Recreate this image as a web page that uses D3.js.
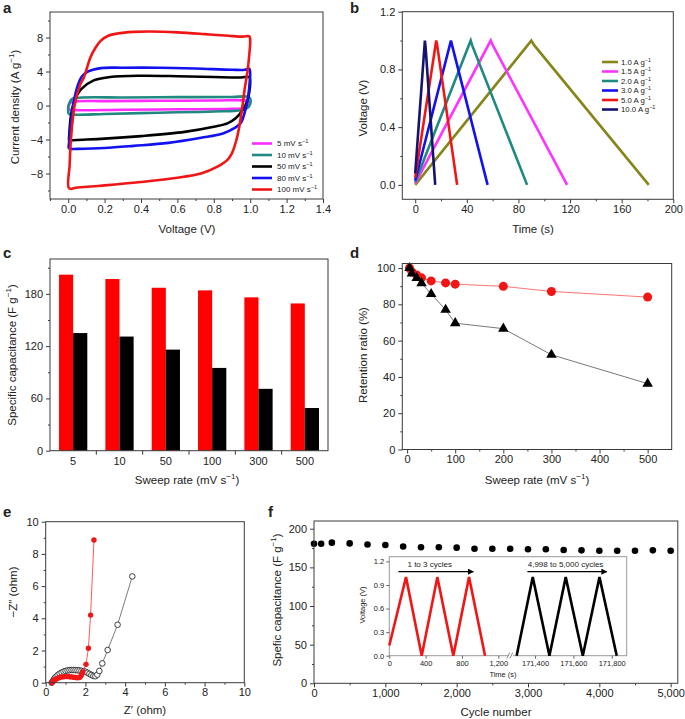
<!DOCTYPE html>
<html>
<head>
<meta charset="utf-8">
<script src="https://cdn.jsdelivr.net/npm/d3@7"></script>
<style>
  body { margin: 0; background: #fff; }
  svg text { font-family: "Liberation Sans", Arial, sans-serif; fill: #222; }
</style>
</head>
<body>
<svg id="chart" width="685" height="719"></svg>
<script>
// ---------- data ----------
// a: CV loops, [voltage V, current A/g]
const cvLabels = ["5", "10", "50", "80", "100"];
const cv5 = [[0.0,-0.3],[0.01,0.3],[0.04,0.48],[0.2,0.52],[0.5,0.55],[0.8,0.58],[0.97,0.6],[0.995,0.45],[0.99,0.0],[0.97,-0.3],[0.9,-0.4],[0.6,-0.45],[0.3,-0.5],[0.05,-0.55],[0.01,-0.5]];
const cv10 = [[0.0,-0.8],[0.005,0.2],[0.02,0.75],[0.06,0.92],[0.3,0.95],[0.6,0.98],[0.9,1.0],[0.98,1.05],[1.0,0.8],[1.0,0.2],[0.985,-0.3],[0.95,-0.55],[0.8,-0.7],[0.5,-0.85],[0.2,-1.0],[0.04,-1.08],[0.005,-1.0]];
const cv50 = [[0.005,-4.1],[0.006,-3.4],[0.015,-1.2],[0.035,0.6],[0.07,1.9],[0.14,2.95],[0.23,3.35],[0.4,3.5],[0.6,3.45],[0.8,3.35],[0.95,3.3],[0.995,3.35],[1.0,2.8],[0.995,1.6],[0.985,0.6],[0.958,-0.55],[0.92,-1.5],[0.875,-2.1],[0.8,-2.5],[0.64,-3.1],[0.4,-3.6],[0.2,-3.9],[0.05,-4.05],[0.01,-4.1]];
const cv80 = [[0.003,-5.0],[0.005,-4.3],[0.015,-2.0],[0.03,0.4],[0.05,2.2],[0.075,3.4],[0.105,3.96],[0.18,4.4],[0.3,4.45],[0.5,4.45],[0.7,4.35],[0.9,4.2],[0.97,4.2],[0.995,4.35],[1.0,3.8],[0.995,2.2],[0.985,0.5],[0.97,-0.8],[0.95,-2.0],[0.91,-2.7],[0.85,-3.3],[0.73,-3.8],[0.55,-4.4],[0.36,-4.75],[0.2,-5.0],[0.05,-5.1],[0.01,-5.1]];
const cv100 = [[0.005,-9.75],[0.008,-7.0],[0.015,-4.0],[0.035,0.0],[0.065,2.4],[0.086,3.3],[0.123,5.7],[0.15,6.8],[0.178,7.6],[0.22,8.2],[0.27,8.47],[0.36,8.66],[0.45,8.7],[0.6,8.6],[0.75,8.4],[0.88,8.2],[0.96,8.1],[0.995,8.15],[1.0,7.6],[0.995,6.0],[0.985,4.0],[0.97,2.0],[0.958,0.0],[0.94,-2.5],[0.925,-4.0],[0.9,-5.6],[0.875,-6.4],[0.82,-7.2],[0.73,-8.0],[0.6,-8.5],[0.4,-9.0],[0.2,-9.4],[0.05,-9.65]];

// b: charge/discharge, [time s, voltage V]
const gcdLabels = ["1.0", "1.5", "2.0", "3.0", "5.0", "10.0"];
const gcd1 = [[0,0.0],[90,1.0],[92,0.97],[181,0.0]];
const gcd15 = [[0,0.01],[58.5,1.0],[60,0.97],[117.7,0.0]];
const gcd2 = [[0,0.02],[43,1.0],[44,0.97],[86.7,0.0]];
const gcd3 = [[0,0.03],[27.7,1.0],[28.5,0.97],[56.1,0.0]];
const gcd5 = [[0,0.05],[16.3,1.0],[17,0.97],[32.5,0.0]];
const gcd10 = [[0,0.08],[7.5,1.0],[8,0.96],[15.5,0.0]];

// c: specific capacitance vs sweep rate
const rateLabels = ["5", "10", "50", "100", "300", "500"];
const capRed = [202, 197, 187, 184, 176, 169];
const capBlack = [135, 131, 116, 95, 71, 49];

// d: retention ratio
const retRates = [5, 10, 20, 30, 50, 80, 100, 200, 300, 500];
const retRed = [100, 97.8, 96.2, 94.6, 92.9, 91.8, 91.1, 89.9, 87.1, 84];
const retBlack = [100, 97, 94.5, 91.7, 85.7, 77, 69.6, 66.6, 52.2, 36.3];

// e: Nyquist
const nyRedX = [0.3,0.35,0.4,0.45,0.5,0.55,0.6,0.7,0.8,0.9,1.0,1.1,1.2,1.3,1.4,1.5,1.6,1.7,1.75,1.8,1.86,2.03,2.15,2.26,2.43];
const nyRedY = [0,0.06,0.12,0.17,0.21,0.25,0.28,0.32,0.35,0.37,0.38,0.38,0.37,0.36,0.34,0.32,0.3,0.32,0.38,0.48,0.66,1.14,2.14,4.2,8.86];
const nyBlackX = [0.3,0.35,0.4,0.45,0.5,0.6,0.7,0.8,0.9,1.0,1.1,1.2,1.3,1.4,1.5,1.6,1.7,1.8,1.9,2.0,2.1,2.2,2.3,2.4,2.5,2.6,2.7,2.85,3.12,3.62,4.36];
const nyBlackY = [0,0.08,0.18,0.27,0.35,0.47,0.56,0.63,0.69,0.73,0.76,0.78,0.79,0.79,0.78,0.77,0.76,0.74,0.72,0.68,0.62,0.55,0.48,0.42,0.4,0.5,0.73,1.2,2.03,3.6,6.6];

// f: cycling
const cycleN = [0,100,250,500,750,1000,1250,1500,1750,2000,2250,2500,2750,3000,3250,3500,3750,4000,4250,4500,4750,5000];
const cycleCap = [180.5,180.5,182,181,179.5,179,177,176,176,175.5,174,174,174,173.5,173.5,172.5,172,171.5,171.5,171.5,172,171.5];
const insetRedT = [0, 184, 357, 529, 705, 878, 1054];
const insetRedV = [0.13, 1.0, 0, 1.0, 0, 1.0, 0];
const insetBlackT = [171304, 171388, 171475, 171560, 171649, 171736, 171826];
const insetBlackV = [0, 1.0, 0, 1.0, 0, 1.0, 0];

// ---------- helpers ----------
const svg = d3.select("#chart");
svg.append("rect").attr("width", 685).attr("height", 719).attr("fill", "#fff");

const AX = "#3a3a3a";

function axes(g, x, y, o) {
  const [xl, xr] = x.range(), [yb, yt] = y.range();
  const fs = o.fs || 11, ts = o.ts || 4;
  g.append("g").attr("transform", `translate(0,${yb})`)
    .call(d3.axisBottom(x).tickValues(o.xt).tickSize(ts).tickPadding(2).tickFormat(o.xf || (d => d)));
  g.append("g").attr("transform", `translate(${xl},0)`)
    .call(d3.axisLeft(y).tickValues(o.yt).tickSize(ts).tickPadding(3).tickFormat(o.yf || (d => d)));
  if (o.xm) g.append("g").attr("transform", `translate(0,${yb})`)
    .call(d3.axisBottom(x).tickValues(o.xm).tickSize(ts / 2).tickFormat(""));
  if (o.ym) g.append("g").attr("transform", `translate(${xl},0)`)
    .call(d3.axisLeft(y).tickValues(o.ym).tickSize(ts / 2).tickFormat(""));
  g.selectAll(".domain").remove();
  g.selectAll(".tick line").attr("stroke", AX);
  g.selectAll(".tick text").attr("font-size", fs).attr("fill", "#222")
    .attr("font-family", "'Liberation Sans', Arial, sans-serif");
  g.append("rect").attr("x", xl).attr("y", yt).attr("width", xr - xl).attr("height", yb - yt)
    .attr("fill", "none").attr("stroke", o.frame || AX).attr("stroke-width", 1);
}

function rich(sel, base, sup, tail, size) {
  sel.attr("font-size", size);
  sel.append("tspan").text(base);
  if (sup) {
    sel.append("tspan").attr("dy", -size * 0.4).attr("font-size", size * 0.7).text(sup);
    sel.append("tspan").attr("dy", size * 0.4).text(tail || "");
  }
  return sel;
}

function xTitle(x, y, base, sup, tail, size) {
  rich(svg.append("text").attr("x", x).attr("y", y).attr("dy", "0.35em").attr("text-anchor", "middle"), base, sup, tail, size || 11.5);
}
function yTitle(x, y, base, sup, tail, size) {
  rich(svg.append("text").attr("transform", `translate(${x},${y}) rotate(-90)`).attr("dy", "0.35em").attr("text-anchor", "middle"), base, sup, tail, size || 11.5);
}
function panelLabel(t, x, y) {
  svg.append("text").attr("x", x).attr("y", y).attr("font-size", 15).attr("font-weight", "bold").attr("fill", "#000").text(t);
}
const minus = d3.format("d");

// ---------- a ----------
{
  const x = d3.scaleLinear().domain([-0.1, 1.4]).range([50, 323]);
  const y = d3.scaleLinear().domain([-11, 11]).range([199, 12]);
  const g = svg.append("g");
  const colors = ["#ff2bff", "#1f8a80", "#000000", "#1212f0", "#f01616"];
  const loops = [cv5, cv10, cv50, cv80, cv100];
  const line = d3.line().x(d => x(d[0])).y(d => y(d[1])).curve(d3.curveCatmullRomClosed.alpha(0.5));
  g.selectAll("path.cv").data(loops).join("path").attr("class", "cv")
    .attr("d", line).attr("fill", "none").attr("stroke", (d, i) => colors[i]).attr("stroke-width", 2.6);
  axes(g, x, y, {
    xt: [0, 0.2, 0.4, 0.6, 0.8, 1.0, 1.2, 1.4], xf: d3.format(".1f"),
    xm: d3.range(-1, 14, 2).map(v => v / 10),
    yt: [-8, -4, 0, 4, 8], yf: minus, ym: [-10, -6, -2, 2, 6, 10]
  });
  const leg = g.append("g");
  cvLabels.forEach((lab, i) => {
    const ly = 143.5 + i * 11.5;
    leg.append("line").attr("x1", 252).attr("x2", 272).attr("y1", ly).attr("y2", ly)
      .attr("stroke", colors[i]).attr("stroke-width", 2.6);
    rich(leg.append("text").attr("x", 277).attr("y", ly).attr("dy", "0.35em"), lab + " mV s", "\u22121", "", 8);
  });
  xTitle(187, 229, "Voltage (V)");
  yTitle(15, 107, "Current density (A g", "\u22121", ")");
  panelLabel("a", 3, 13);
}

// ---------- b ----------
{
  const x = d3.scaleLinear().domain([-10, 200]).range([402.3, 673.3]);
  const y = d3.scaleLinear().domain([-0.1, 1.2]).range([199.3, 11.7]);
  const g = svg.append("g");
  const colors = ["#85851a", "#ff33ff", "#1f8a80", "#1212f0", "#f01616", "#14146e"];
  const curves = [gcd1, gcd15, gcd2, gcd3, gcd5, gcd10];
  const line = d3.line().x(d => x(d[0])).y(d => y(d[1]));
  g.selectAll("path.gcd").data(curves).join("path").attr("class", "gcd")
    .attr("d", line).attr("fill", "none").attr("stroke", (d, i) => colors[i]).attr("stroke-width", 2.6);
  axes(g, x, y, {
    xt: [0, 40, 80, 120, 160, 200], xm: [20, 60, 100, 140, 180],
    yt: [0, 0.4, 0.8, 1.2], yf: d3.format(".1f"), ym: [0.2, 0.6, 1.0]
  });
  gcdLabels.forEach((lab, i) => {
    const ly = 62 + i * 9.5;
    g.append("line").attr("x1", 602).attr("x2", 618).attr("y1", ly).attr("y2", ly)
      .attr("stroke", colors[i]).attr("stroke-width", 2.6);
    rich(g.append("text").attr("x", 621).attr("y", ly).attr("dy", "0.35em"), lab + " A g", "\u22121", "", 7.8);
  });
  xTitle(533, 229, "Time (s)");
  yTitle(363, 108, "Voltage (V)");
  panelLabel("b", 350, 13);
}

// ---------- c ----------
{
  const x = d3.scaleBand().domain(rateLabels).range([50, 328]);
  const y = d3.scaleLinear().domain([0, 220]).range([450.7, 259]);
  const g = svg.append("g");
  const bw = x.bandwidth();
  const sub = d3.scaleBand().domain([0, 1]).range([bw * 0.195, bw * 0.805]);
  g.selectAll("rect.r").data(capRed).join("rect").attr("class", "r")
    .attr("x", (d, i) => x(rateLabels[i]) + sub(0)).attr("width", sub.bandwidth())
    .attr("y", d => y(d)).attr("height", d => y(0) - y(d)).attr("fill", "#ff0000");
  g.selectAll("rect.k").data(capBlack).join("rect").attr("class", "k")
    .attr("x", (d, i) => x(rateLabels[i]) + sub(1)).attr("width", sub.bandwidth())
    .attr("y", d => y(d)).attr("height", d => y(0) - y(d)).attr("fill", "#000");
  const yb = y.range()[0];
  g.append("g").attr("transform", `translate(0,${yb})`)
    .call(d3.axisBottom(x).tickSize(0).tickPadding(7))
    .call(a => a.select(".domain").remove())
    .selectAll("text").attr("font-size", 11).attr("fill", "#222");
  g.selectAll("line.bt").data(rateLabels.slice(1)).join("line").attr("class", "bt")
    .attr("x1", d => x(d)).attr("x2", d => x(d)).attr("y1", yb).attr("y2", yb + 4).attr("stroke", AX);
  const ly = g.append("g").attr("transform", `translate(50,0)`)
    .call(d3.axisLeft(y).tickValues([0, 60, 120, 180]).tickSize(4).tickPadding(3));
  g.append("g").attr("transform", `translate(50,0)`)
    .call(d3.axisLeft(y).tickValues([30, 90, 150, 210]).tickSize(2).tickFormat(""));
  g.selectAll(".domain").remove();
  g.selectAll(".tick line").attr("stroke", AX);
  ly.selectAll("text").attr("font-size", 11).attr("fill", "#222");
  g.append("rect").attr("x", 50).attr("y", 259).attr("width", 278).attr("height", yb - 259)
    .attr("fill", "none").attr("stroke", AX);
  xTitle(187, 480, "Sweep rate (mV s", "\u22121", ")");
  yTitle(12, 355, "Specific capacitance (F g", "\u22121", ")");
  panelLabel("c", 3, 258);
}

// ---------- d ----------
{
  const x = d3.scaleLinear().domain([-10, 550]).range([402.3, 671.7]);
  const y = d3.scaleLinear().domain([0, 102.5]).range([449.5, 263.5]);
  const g = svg.append("g");
  const line = d3.line().x(d => x(d[0])).y(d => y(d[1]));
  const redPts = retRates.map((r, i) => [r, retRed[i]]);
  const blkPts = retRates.map((r, i) => [r, retBlack[i]]);
  g.append("path").attr("d", line(blkPts)).attr("fill", "none").attr("stroke", "#555").attr("stroke-width", 0.8);
  g.append("path").attr("d", line(redPts)).attr("fill", "none").attr("stroke", "#ff5050").attr("stroke-width", 0.8);
  g.selectAll("circle").data(redPts).join("circle")
    .attr("cx", d => x(d[0])).attr("cy", d => y(d[1])).attr("r", 4.5).attr("fill", "#f01616");
  g.selectAll("path.tri").data(blkPts).join("path").attr("class", "tri")
    .attr("transform", d => `translate(${x(d[0])},${y(d[1])})`)
    .attr("d", d3.symbol(d3.symbolTriangle, 48)).attr("fill", "#000");
  axes(g, x, y, {
    xt: [0, 100, 200, 300, 400, 500], xm: [50, 150, 250, 350, 450],
    yt: [0, 20, 40, 60, 80, 100], ym: [10, 30, 50, 70, 90]
  });
  xTitle(537, 480, "Sweep rate (mV s", "\u22121", ")");
  yTitle(363, 355, "Retention ratio (%)");
  panelLabel("d", 350, 258);
}

// ---------- e ----------
{
  const x = d3.scaleLinear().domain([0, 10]).range([45.7, 244.3]);
  const y = d3.scaleLinear().domain([0, 10]).range([682.7, 521.7]);
  const g = svg.append("g");
  const line = d3.line().x(d => x(d[0])).y(d => y(d[1]));
  const blk = nyBlackX.map((v, i) => [v, nyBlackY[i]]);
  const red = nyRedX.map((v, i) => [v, nyRedY[i]]);
  g.append("path").attr("d", line(blk)).attr("fill", "none").attr("stroke", "#444").attr("stroke-width", 0.7);
  g.selectAll("circle.b").data(blk).join("circle").attr("class", "b")
    .attr("cx", d => x(d[0])).attr("cy", d => y(d[1])).attr("r", 2.8)
    .attr("fill", "#fff").attr("stroke", "#111").attr("stroke-width", 0.8);
  g.append("path").attr("d", line(red)).attr("fill", "none").attr("stroke", "#ff3030").attr("stroke-width", 0.8);
  g.selectAll("circle.r").data(red).join("circle").attr("class", "r")
    .attr("cx", d => x(d[0])).attr("cy", d => y(d[1])).attr("r", 2.7).attr("fill", "#f01616");
  axes(g, x, y, {
    xt: [0, 2, 4, 6, 8, 10], xm: [1, 3, 5, 7, 9],
    yt: [0, 2, 4, 6, 8, 10], ym: [1, 3, 5, 7, 9]
  });
  xTitle(145, 710, "Z\u2032 (ohm)");
  yTitle(13, 592, "\u2212Z\u2033 (ohm)");
  panelLabel("e", 3, 517);
}

// ---------- f ----------
{
  const x = d3.scaleLinear().domain([0, 5100]).range([314, 677.8]);
  const y = d3.scaleLinear().domain([0, 210]).range([683.3, 521]);
  const g = svg.append("g");
  g.selectAll("circle").data(cycleN).join("circle")
    .attr("cx", d => x(d)).attr("cy", (d, i) => y(cycleCap[i])).attr("r", 3.3).attr("fill", "#000");
  axes(g, x, y, {
    xt: [0, 1000, 2000, 3000, 4000, 5000], xf: d3.format(","), xm: [500, 1500, 2500, 3500, 4500],
    yt: [0, 50, 100, 150, 200], ym: [25, 75, 125, 175]
  });
  xTitle(496, 712, "Cycle number");
  yTitle(277, 600, "Spefic capacitance (F g", "\u22121", ")");
  panelLabel("f", 268, 517);

  // inset
  const xi1 = d3.scaleLinear().domain([0, 1310]).range([389.3, 508.3]);
  const xi2 = d3.scaleLinear().domain([171285, 171878]).range([513, 626.7]);
  const yi = d3.scaleLinear().domain([0, 1.26]).range([655.7, 556.7]);
  const gi = svg.append("g");
  gi.append("rect").attr("x", 389.3).attr("y", 556.7).attr("width", 626.7 - 389.3).attr("height", 655.7 - 556.7)
    .attr("fill", "#fff").attr("stroke", "#999");
  const l1 = d3.line().x(d => xi1(d[0])).y(d => yi(d[1]));
  const l2 = d3.line().x(d => xi2(d[0])).y(d => yi(d[1]));
  gi.append("path").attr("d", l1(insetRedT.map((t, i) => [t, insetRedV[i]])))
    .attr("fill", "none").attr("stroke", "#f01616").attr("stroke-width", 2.6).attr("stroke-linejoin", "miter");
  gi.append("path").attr("d", l2(insetBlackT.map((t, i) => [t, insetBlackV[i]])))
    .attr("fill", "none").attr("stroke", "#000").attr("stroke-width", 2.6).attr("stroke-linejoin", "miter");
  const ib = gi.append("g");
  ib.append("g").attr("transform", "translate(0,655.7)")
    .call(d3.axisBottom(xi1).tickValues([0, 400, 800, 1200]).tickSize(3).tickPadding(2).tickFormat(d3.format(",")));
  ib.append("g").attr("transform", "translate(0,655.7)")
    .call(d3.axisBottom(xi2).tickValues([171400, 171600, 171800]).tickSize(3).tickPadding(2).tickFormat(d3.format(",")));
  ib.append("g").attr("transform", "translate(389.3,0)")
    .call(d3.axisLeft(yi).tickValues([0, 0.3, 0.6, 0.9, 1.2]).tickSize(3).tickPadding(2).tickFormat(d3.format(".1f")));
  ib.selectAll(".domain").remove();
  ib.selectAll(".tick line").attr("stroke", "#666");
  ib.selectAll(".tick text").attr("font-size", 7.5).attr("fill", "#222");
  // axis break
  gi.append("rect").attr("x", 508.3).attr("y", 653).attr("width", 4.7).attr("height", 5).attr("fill", "#fff");
  [508.3, 511.3].forEach(bx => gi.append("line").attr("x1", bx - 1.5).attr("y1", 658.5).attr("x2", bx + 1.5).attr("y2", 652.5)
    .attr("stroke", "#666").attr("stroke-width", 0.8));
  // arrows
  const defs = svg.append("defs");
  defs.append("marker").attr("id", "arr").attr("viewBox", "0 0 10 10").attr("refX", 9).attr("refY", 5)
    .attr("markerWidth", 7).attr("markerHeight", 6).attr("markerUnits", "userSpaceOnUse").attr("orient", "auto")
    .append("path").attr("d", "M0,0L10,5L0,10Z").attr("fill", "#000");
  gi.append("line").attr("x1", xi1(100)).attr("x2", xi1(925)).attr("y1", yi(1.07)).attr("y2", yi(1.07))
    .attr("stroke", "#000").attr("stroke-width", 1.2).attr("marker-end", "url(#arr)");
  gi.append("line").attr("x1", xi2(171360)).attr("x2", xi2(171774)).attr("y1", yi(1.07)).attr("y2", yi(1.07))
    .attr("stroke", "#000").attr("stroke-width", 1.2).attr("marker-end", "url(#arr)");
  gi.append("text").attr("x", xi1(200)).attr("y", yi(1.135)).attr("font-size", 8).text("1 to 3 cycles");
  gi.append("text").attr("x", xi2(171362)).attr("y", yi(1.135)).attr("font-size", 8).text("4,998 to 5,000 cycles");
  gi.append("text").attr("x", 503).attr("y", 674).attr("dy", "0.35em").attr("text-anchor", "middle").attr("font-size", 7.5).text("Time (s)");
  gi.append("text").attr("transform", "translate(362,605) rotate(-90)").attr("dy", "0.35em").attr("text-anchor", "middle").attr("font-size", 7.5).text("Voltage (V)");
}
</script>
</body>
</html>
